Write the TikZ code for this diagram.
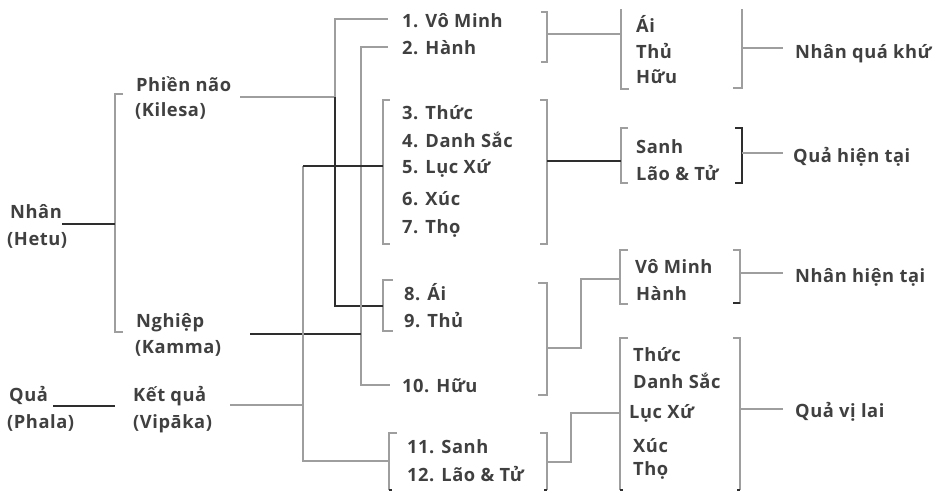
\documentclass[tikz,border=0pt]{standalone}
\usepackage{fontspec}
\setmainfont{Open Sans}[LetterSpace=3]
\definecolor{txtgray}{HTML}{404040}
\definecolor{linegray}{HTML}{9E9E9E}
\definecolor{linedark}{HTML}{2E2E2E}
\tikzset{
	lbl/.style={anchor=base west, inner sep=0pt, text=txtgray, font=\fontsize{18.3}{22}\selectfont\bfseries},
	gline/.style={draw=linegray, line width=1.8pt},
	dline/.style={draw=linedark, line width=1.4pt}
}
\begin{document}
\begin{tikzpicture}[x=1pt, y=-1pt]
	\useasboundingbox (0,0) rectangle (936,491);
	
	%left side
	\node[lbl] (nhan) at (10,218) {Nhân};
	\node[lbl] (hetu) at (7,245) {(Hetu)};
	\node[lbl] (qua) at (9,401) {Quả};
	\node[lbl] (phala) at (7,428) {(Phala)};
	\node[lbl] (phiennao) at (136,91) {Phiền não};
	\node[lbl] (kilesa) at (135,116) {(Kilesa)};
	\node[lbl] (nghiep) at (136,327) {Nghiệp};
	\node[lbl] (kamma) at (135,353) {(Kamma)};
	\node[lbl] (ketqua) at (133,401) {Kết quả};
	\node[lbl] (vipaka) at (133,428) {(Vipāka)};
	
	%twelve links
	\foreach \name/\x/\y/\txt in {m1/402/27/1. Vô Minh, m2/402/54/2. Hành,
		m3/402/119/3. Thức, m4/402/147/4. Danh Sắc, m5/402/173/5. Lục Xứ,
		m6/402/205/6. Xúc, m7/402/233/7. Thọ, m8/404/300/8. Ái, m9/404/327/9. Thủ,
		m10/402/392/10. Hữu, m11/407/453/11. Sanh, m12/407/481/12. Lão \& Tử}{
		\node[lbl] (\name) at (\x,\y) {\txt};
	}
	
	%right groups
	\foreach \name/\x/\y/\txt in {r1/636/32/Ái, r2/636/58/Thủ, r3/636/83/Hữu,
		r4/636/153/Sanh, r5/636/180/Lão \& Tử, r6/635/273/Vô Minh, r7/636/300/Hành,
		r8/633/361/Thức, r9/633/388/Danh Sắc, r10/629/418/Lục Xứ, r11/633/452/Xúc,
		r12/633/475/Thọ}{
		\node[lbl] (\name) at (\x,\y) {\txt};
	}
	\node[lbl] (nqk) at (795,58) {Nhân quá khứ};
	\node[lbl] (qht) at (793,162) {Quả hiện tại};
	\node[lbl] (nht) at (795,282) {Nhân hiện tại};
	\node[lbl] (qvl) at (795,417) {Quả vị lai};
	
	%brackets
	\draw[gline] (123,94) -- (115,94) -- (115,332) -- (123,332);
	\draw[gline] (390,100) -- (383,100) -- (383,244) -- (390,244);
	\draw[gline] (540,100) -- (547,100) -- (547,244) -- (540,244);
	\draw[gline] (541,12) -- (547,12) -- (547,62) -- (541,62);
	\draw[gline] (621,9) -- (621,89) -- (629,89);
	\draw[gline] (742,9) -- (742,88) -- (733,88);
	\draw[gline] (628,128) -- (621,128) -- (621,183) -- (628,183);
	\draw[dline] (735,128) -- (742,128) -- (742,183) -- (735,183);
	\draw[gline] (393,280) -- (383,280) -- (383,331) -- (393,331);
	\draw[gline] (538,283) -- (547,283) -- (547,395) -- (538,395);
	\draw[gline] (628,250) -- (620,250) -- (620,304) -- (628,304);
	\draw[gline] (733,250) -- (740,250) -- (740,304);
	\draw[dline] (740,303) -- (733,303);
	\draw[gline] (397,433) -- (389,433) -- (389,490);
	\draw[gline] (540,433) -- (547,433) -- (547,490);
	\draw[gline] (628,338) -- (620,338) -- (620,490);
	\draw[gline] (733,338) -- (740,338) -- (740,490);
	\foreach \x/\d in {389/1, 547/-1, 620/1, 740/-1}{
		\draw[dline] (\x,490) -- ++(\d*3,0);
	}
	
	%attach points
	\coordinate (nhanR) at (62,224);
	\coordinate (hetuB) at (115,224);
	\coordinate (quaR) at (53,406);
	\coordinate (phalaB) at (115,406);
	\coordinate (kilR) at (240,97);
	\coordinate (kamR) at (250,334);
	\coordinate (vipR) at (230,405);
	\coordinate (m1L) at (388,19);
	\coordinate (m2L) at (388,47);
	\coordinate (m37L) at (383,166);
	\coordinate (m89L) at (383,306);
	\coordinate (m10L) at (390,385);
	\coordinate (m1112L) at (389,461);
	\coordinate (m12R) at (547,34);
	\coordinate (m37R) at (547,161);
	\coordinate (m810R) at (547,348);
	\coordinate (m1112R) at (547,462);
	\coordinate (r13L) at (621,34);
	\coordinate (r45L) at (621,161);
	\coordinate (r67L) at (620,279);
	\coordinate (r812L) at (620,413);
	\coordinate (r13R) at (742,48);
	\coordinate (r45R) at (742,153);
	\coordinate (r67R) at (740,273);
	\coordinate (r812R) at (740,409);
	\coordinate (nqkL) at (783,48);
	\coordinate (qhtL) at (783,153);
	\coordinate (nhtL) at (783,273);
	\coordinate (qvlL) at (783,409);
	
	%connectors
	\draw[dline] (nhanR) -- (hetuB);
	\draw[dline] (quaR) -- (phalaB);
	\draw[gline] (kilR) -- (kilR -| 335,0) |- (m1L);
	\draw[dline] (kilR -| 335,0) |- (m89L);
	\draw[gline] (m2L) -| (361,385) -- (m10L);
	\draw[dline] (kamR) -- (kamR -| 361,0);
	\draw[gline] (vipR) -- (vipR -| 303,0);
	\draw[gline] (m37L -| 303,0) |- (m1112L);
	\draw[dline] (m37L -| 303,0) -- (m37L);
	\draw[gline] (m12R) -- (r13L);
	\draw[dline] (m37R) -- (r45L);
	\draw[gline] (m810R) -| (581,279) -- (r67L);
	\draw[gline] (m1112R) -| (571,413) -- (r812L);
	\draw[gline] (r13R) -- (nqkL);
	\draw[gline] (r45R) -- (qhtL);
	\draw[gline] (r67R) -- (nhtL);
	\draw[gline] (r812R) -- (qvlL);
\end{tikzpicture}
\end{document}
